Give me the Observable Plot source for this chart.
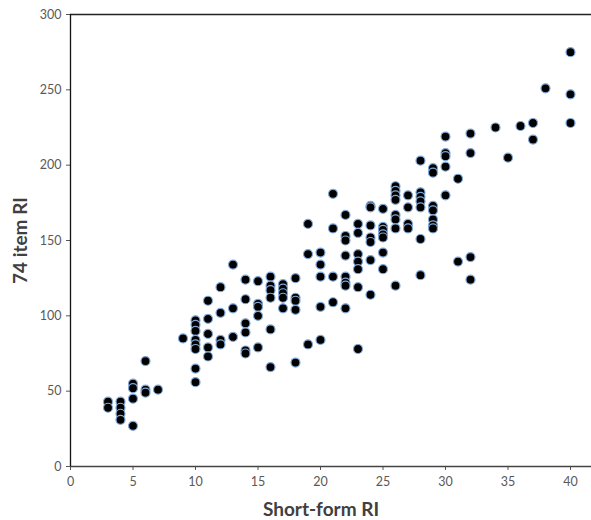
<!DOCTYPE html>
<html>
<head>
<meta charset="utf-8">
<script src="https://cdn.jsdelivr.net/npm/d3@7"></script>
<script src="https://cdn.jsdelivr.net/npm/@observablehq/plot@0.6"></script>
<style>
  body { margin: 0; background: #fff; }
  #chart svg { display: block; }
</style>
</head>
<body>
<div id="chart"></div>
<script>
// Short-form RI (x) and 74 item RI (y)
const shortForm = [
  3, 3,
  4, 4, 4, 4,
  5, 5, 5, 5,
  6, 6, 6,
  7,
  9,
  10, 10, 10, 10, 10, 10, 10, 10,
  11, 11, 11, 11, 11,
  12, 12, 12, 12,
  13, 13, 13,
  14, 14, 14, 14, 14, 14,
  15, 15, 15, 15, 15,
  16, 16, 16, 16, 16, 16,
  17, 17, 17, 17, 17,
  18, 18, 18, 18, 18,
  19, 19, 19,
  20, 20, 20, 20, 20,
  21, 21, 21, 21,
  22, 22, 22, 22, 22, 22, 22, 22,
  23, 23, 23, 23, 23, 23, 23,
  24, 24, 24, 24, 24, 24, 24,
  25, 25, 25, 25, 25, 25, 25,
  26, 26, 26, 26, 26, 26, 26, 26,
  27, 27, 27, 27,
  28, 28, 28, 28, 28, 28, 28,
  29, 29, 29, 29, 29, 29, 29,
  30, 30, 30, 30, 30,
  31, 31,
  32, 32, 32, 32,
  34, 35, 36,
  37, 37,
  38,
  40, 40, 40
];
const item74 = [
  43, 39,
  43, 39, 35, 31,
  55, 52, 45, 27,
  70, 51, 49,
  51,
  85,
  97, 94, 90, 84, 81, 78, 65, 56,
  110, 98, 88, 79, 73,
  119, 102, 84, 81,
  134, 105, 86,
  124, 111, 95, 89, 77, 75,
  123, 108, 106, 100, 79,
  126, 120, 117, 112, 91, 66,
  121, 118, 115, 112, 105,
  125, 112, 110, 104, 69,
  161, 141, 81,
  142, 134, 126, 106, 84,
  181, 158, 126, 109,
  167, 153, 150, 140, 126, 122, 120, 105,
  161, 155, 141, 136, 131, 119, 78,
  173, 172, 160, 152, 149, 137, 114,
  171, 159, 157, 154, 152, 142, 131,
  186, 183, 180, 177, 167, 164, 158, 120,
  180, 172, 161, 158,
  203, 182, 179, 176, 172, 151, 127,
  198, 195, 173, 170, 164, 160, 158,
  219, 208, 206, 199, 180,
  191, 136,
  221, 208, 139, 124,
  225, 205, 226,
  228, 217,
  251,
  275, 247, 228
];
const xTicks = [0, 5, 10, 15, 20, 25, 30, 35, 40];
const yTicks = [0, 50, 100, 150, 200, 250, 300];
const xTitle = "Short-form RI";
const yTitle = "74 item RI";

const points = shortForm.map((x, i) => ({x, y: item74[i]}));

const chart = Plot.plot({
  width: 591,
  height: 520,
  marginLeft: 70,
  marginRight: 0,
  marginTop: 14,
  marginBottom: 54,
  style: {fontFamily: "Lato, 'Open Sans', sans-serif", fontSize: "12px", background: "#fff"},
  x: {domain: [0, 41.68], ticks: xTicks},
  y: {domain: [0, 300], ticks: yTicks},
  marks: [
    Plot.axisY({ticks: yTicks, tickSize: 4, tickPadding: 5, fill: "#595959", fontSize: 12.5,
      stroke: "#555", label: yTitle, labelAnchor: "center", labelArrow: "none", labelOffset: 57}),
    Plot.axisX({ticks: xTicks, tickSize: 4, tickPadding: 7, fill: "#595959", fontSize: 12.5,
      stroke: "#555", label: xTitle, labelAnchor: "center", labelArrow: "none", labelOffset: 49}),
    Plot.ruleY([0], {stroke: "#444", strokeWidth: 1.3}),
    Plot.ruleY([300], {stroke: "#222", strokeWidth: 1.6}),
    Plot.ruleX([0], {stroke: "#111", strokeWidth: 1.3}),
    Plot.dot(points, {x: "x", y: "y", r: 4.5, fill: "#000", stroke: "#7fa8d8", strokeWidth: 1.2})
  ]
});
document.getElementById("chart").appendChild(chart);
// style the axis titles (bold, larger, dark gray)
d3.select(chart).selectAll("g[aria-label='y-axis label'] text, g[aria-label='x-axis label'] text")
  .attr("font-size", 19).attr("font-weight", "bold").attr("fill", "#404040");
d3.select(chart).selectAll("g[aria-label='x-axis label'] text").attr("dx", -10);
</script>
</body>
</html>
